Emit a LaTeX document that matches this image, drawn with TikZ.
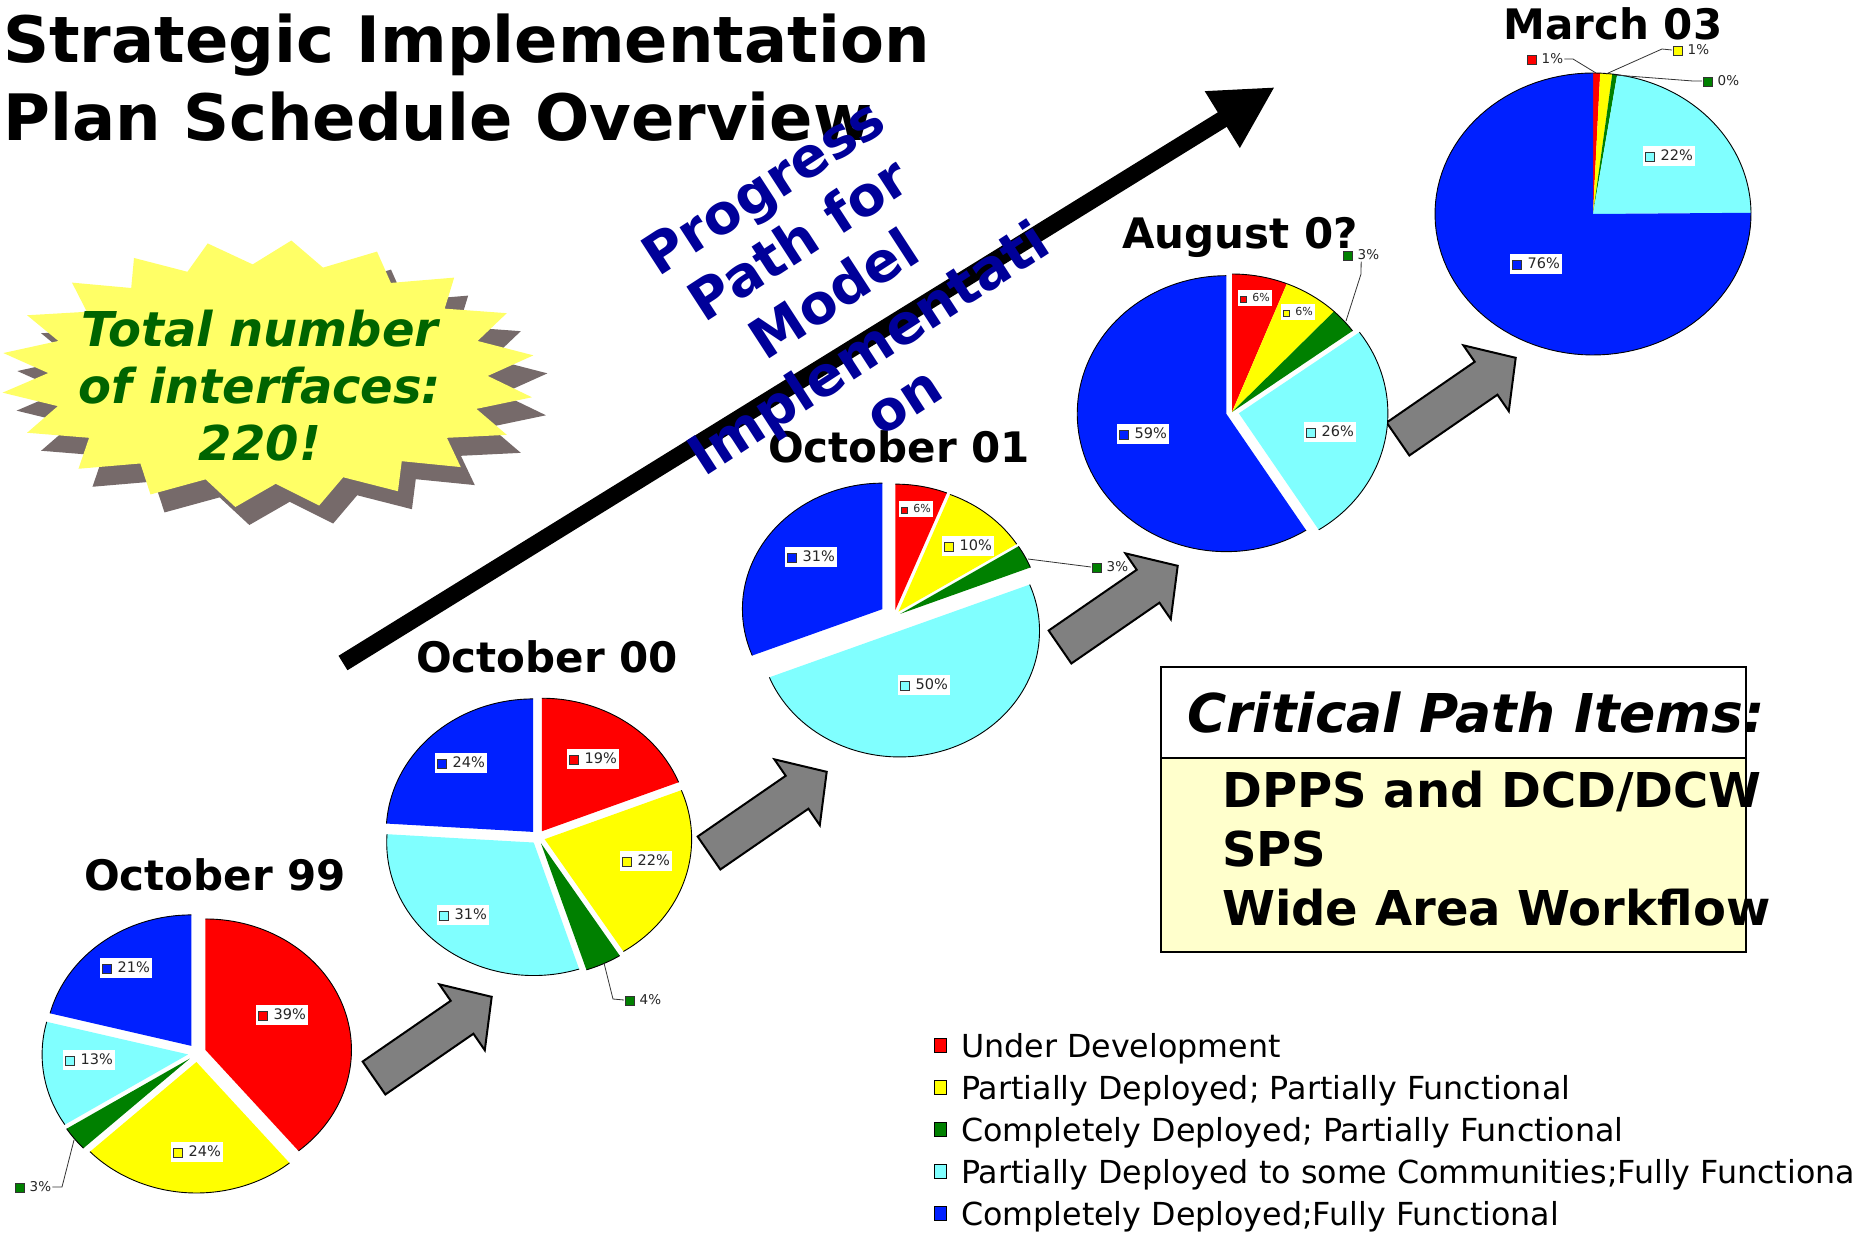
\documentclass[tikz,border=0pt]{standalone}
\usepackage{fontspec}
\setmainfont{DejaVu Sans}
\usetikzlibrary{arrows.meta,calc}

\definecolor{pred}{RGB}{255,0,0}
\definecolor{pyellow}{RGB}{255,255,0}
\definecolor{pgreen}{RGB}{0,128,0}
\definecolor{pcyan}{RGB}{128,255,255}
\definecolor{pblue}{RGB}{0,32,255}
\definecolor{starY}{RGB}{255,255,102}
\definecolor{starS}{RGB}{118,106,106}
\definecolor{starT}{RGB}{0,100,0}
\definecolor{navyT}{RGB}{0,0,153}
\definecolor{cpyellow}{RGB}{255,255,204}
\definecolor{agray}{RGB}{128,128,128}

\newcommand\fs[2]{\fontsize{#1}{#2}\selectfont}
\newcommand\swatch[2][9.5]{{\setlength\fboxsep{0pt}\setlength\fboxrule{1pt}\fcolorbox{black!80}{#2}{\rule{0pt}{\dimexpr#1pt-2pt\relax}\hspace{\dimexpr#1pt-2pt\relax}}}}

% cx cy rx ry startangle endangle explode colour
\newcommand\pieslice[8]{%
  \pgfmathsetmacro\psMid{(#5+#6)/2}%
  \pgfmathsetmacro\psOx{#1+#7*cos(\psMid)}%
  \pgfmathsetmacro\psOy{#2-#7*sin(\psMid)}%
  \fill[#8] (\psOx,\psOy) -- plot[domain=#5:#6,samples=90] ({\psOx+#3*cos(\x)},{\psOy-#4*sin(\x)}) -- cycle;%
  \draw[arcline] plot[domain=#5:#6,samples=90] ({\psOx+#3*cos(\x)},{\psOy-#4*sin(\x)});%
}

\newcommand\grayarrow[2]{%
  \begin{scope}[shift={(#1,#2)},rotate=34.6]
    \filldraw[fill=agray,draw=black,line width=2pt,line join=miter]
      (0,20) -- (107,20) -- (107,40) -- (143,0) -- (107,-40) -- (107,-20) -- (0,-20) -- cycle;
  \end{scope}}

\def\starpts{85/75.5,66/56,46/36.5,27/17.5,8/-1,-10/-18.5,-27/-35.5,-44/-52.5,-61/-70,-79/-88,-97/-106.5,-116/-125.5,-135/-144.5,-154/-163,-172/-180.5,171/162.5,154/145.5,137/128.5,120/111.5,103/94}

\begin{document}
\begin{tikzpicture}[x=1pt,y=-1pt,
  arcline/.style={draw=black,line width=0.9pt},
  lbl/.style={fill=white,inner xsep=2.5pt,inner ysep=4.5pt,text=black!85,font=\fs{14.5}{17}},
  slbl/.style={fill=white,inner xsep=2pt,inner ysep=3.5pt,text=black!85,font=\fs{11}{13}},
  olbl/.style={inner sep=1pt,anchor=west,text=black!85,font=\fs{13.5}{16}},
  leader/.style={draw=black!80,line width=0.8pt},
  ptitle/.style={inner sep=0pt,anchor=base,font=\bfseries\fs{42}{50}},
  ttl/.style={inner sep=0pt,anchor=base west,font=\bfseries\fs{64}{77}},
  bluetxt/.style={inner sep=0pt,anchor=base,rotate=33,text=navyT,font=\bfseries\fs{55}{64}},
  sttxt/.style={inner sep=0pt,anchor=base,text=starT,font=\bfseries\itshape\fs{48}{57}},
  legsq/.style={draw=black,line width=1pt,minimum width=12pt,minimum height=14pt,inner sep=0pt},
  legtxt/.style={inner sep=0pt,anchor=base west,font=\fs{31.7}{38}},
  cptitle/.style={inner sep=0pt,anchor=base west,font=\bfseries\itshape\fs{53.5}{62}},
  cpitem/.style={inner sep=0pt,anchor=base west,font=\bfseries\fs{48}{58}}
]
\useasboundingbox (0,0) rectangle (1861,1235);
\fill[white] (0,0) rectangle (1861,1235);

% ---------- title ----------
\node[ttl] (title1) at (3,62) {Strategic Implementation};
\node[ttl] (title2) at (3,140) {Plan Schedule Overview};

% ---------- starburst ----------
\fill[starS] ({282+0.82*268*cos(94)},{392-0.82*134*sin(94)})
  \foreach \a/\b in \starpts { -- ({282+268*cos(\a)},{392-134*sin(\a)}) -- ({282+0.82*268*cos(\b)},{392-0.82*134*sin(\b)}) } -- cycle;
\fill[starY] ({268+0.82*268*cos(94)},{374-0.82*134*sin(94)})
  \foreach \a/\b in \starpts { -- ({268+268*cos(\a)},{374-134*sin(\a)}) -- ({268+0.82*268*cos(\b)},{374-0.82*134*sin(\b)}) } -- cycle;
\node[sttxt] (st1) at (260,346) {Total number};
\node[sttxt] (st2) at (260,403) {of interfaces:};
\node[sttxt] (st3) at (260,460) {220!};

% ---------- big progress arrow ----------
\coordinate (bigtail) at (343,663);
\coordinate (bigtip) at (1275,87);
\draw[line width=17pt,-{Triangle[length=62pt,width=62pt]}] (bigtail) -- (bigtip);

% ---------- gray step arrows ----------
\grayarrow{374}{1078}
\grayarrow{709}{853}
\grayarrow{1060}{647}
\grayarrow{1398}{439}

% ---------- pie 1: October 99 ----------
\node[ptitle] (t99) at (215,890) {October 99};
\pieslice{197}{1053}{146}{131}{90}{-50.4}{9}{pred}
\pieslice{197}{1053}{146}{131}{-50.4}{-136.8}{9}{pyellow}
\pieslice{197}{1053}{146}{131}{-136.8}{-147.6}{9}{pgreen}
\pieslice{197}{1053}{146}{131}{-147.6}{-194.4}{9}{pcyan}
\pieslice{197}{1053}{146}{131}{-194.4}{-270}{9}{pblue}
\node[lbl] (l99r) at (282,1015) {\swatch{pred}\hspace{6pt}39\%};
\node[lbl] (l99y) at (197,1152) {\swatch{pyellow}\hspace{6pt}24\%};
\node[lbl] (l99c) at (89,1060) {\swatch{pcyan}\hspace{6pt}13\%};
\node[lbl] (l99b) at (126,968) {\swatch{pblue}\hspace{6pt}21\%};
\coordinate (p99g) at (74,1140);
\node[olbl] (o99g) at (14,1187) {\swatch{pgreen}\hspace{5pt}3\%};
\draw[leader] (o99g.east) -- (62,1187) -- (p99g);

% ---------- pie 2: October 00 ----------
\node[ptitle] (t00) at (547,672) {October 00};
\pieslice{538}{837}{147}{133}{90}{21.6}{7}{pred}
\pieslice{538}{837}{147}{133}{21.6}{-57.6}{7}{pyellow}
\pieslice{538}{837}{147}{133}{-57.6}{-72}{7}{pgreen}
\pieslice{538}{837}{147}{133}{-72}{-183.6}{7}{pcyan}
\pieslice{538}{837}{147}{133}{-183.6}{-270}{7}{pblue}
\node[lbl] (l00r) at (593,759) {\swatch{pred}\hspace{6pt}19\%};
\node[lbl] (l00y) at (646,861) {\swatch{pyellow}\hspace{6pt}22\%};
\node[lbl] (l00c) at (463,915) {\swatch{pcyan}\hspace{6pt}31\%};
\node[lbl] (l00b) at (461,763) {\swatch{pblue}\hspace{6pt}24\%};
\coordinate (p00g) at (604,963);
\node[olbl] (o00g) at (624,1000) {\swatch{pgreen}\hspace{5pt}4\%};
\draw[leader] (p00g) -- (613,999) -- (o00g.west);

% ---------- pie 3: October 01 ----------
\node[ptitle] (t01) at (899,462) {October 01};
\pieslice{894}{617}{140}{126}{90}{68.4}{7}{pred}
\pieslice{894}{617}{140}{126}{68.4}{32.4}{7}{pyellow}
\pieslice{894}{617}{140}{126}{32.4}{21.6}{7}{pgreen}
\pieslice{894}{617}{140}{126}{21.6}{-158.4}{15}{pcyan}
\pieslice{894}{617}{140}{126}{-158.4}{-270}{14}{pblue}
\node[slbl] (l01r) at (916,509) {\swatch[7]{pred}\hspace{5pt}6\%};
\node[lbl] (l01y) at (968,546) {\swatch{pyellow}\hspace{6pt}10\%};
\node[lbl] (l01c) at (924,685) {\swatch{pcyan}\hspace{6pt}50\%};
\node[lbl] (l01b) at (811,557) {\swatch{pblue}\hspace{6pt}31\%};
\coordinate (p01g) at (1028,559);
\node[olbl] (o01g) at (1091,567) {\swatch{pgreen}\hspace{5pt}3\%};
\draw[leader] (p01g) -- (o01g.west);

% ---------- pie 4: August 0? ----------
\node[ptitle] (t02) at (1240,248) {August 0?};
\pieslice{1232}{412}{149}{138}{90}{68.4}{0}{pred}
\pieslice{1232}{412}{149}{138}{68.4}{46.8}{0}{pyellow}
\pieslice{1232}{412}{149}{138}{46.8}{36}{0}{pgreen}
\pieslice{1232}{412}{149}{138}{36}{-57.6}{7}{pcyan}
\pieslice{1232}{412}{149}{138}{-57.6}{-270}{6}{pblue}
\node[slbl] (l02r) at (1255,298) {\swatch[7]{pred}\hspace{5pt}6\%};
\node[slbl] (l02y) at (1298,312) {\swatch[7]{pyellow}\hspace{5pt}6\%};
\node[lbl] (l02c) at (1330,432) {\swatch{pcyan}\hspace{6pt}26\%};
\node[lbl] (l02b) at (1143,434) {\swatch{pblue}\hspace{6pt}59\%};
\coordinate (p02g) at (1346,321);
\node[olbl] (o02g) at (1342,255) {\swatch{pgreen}\hspace{5pt}3\%};
\draw[leader] (p02g) -- (1361,274) -- (o02g.south);

% ---------- pie 5: March 03 ----------
\node[ptitle] (t03) at (1613,39) {March 03};
\pieslice{1593}{214}{158}{141}{90}{87.4}{0}{pred}
\pieslice{1593}{214}{158}{141}{87.4}{83}{0}{pyellow}
\pieslice{1593}{214}{158}{141}{83}{81.2}{0}{pgreen}
\pieslice{1593}{214}{158}{141}{81.2}{0.5}{0}{pcyan}
\pieslice{1593}{214}{158}{141}{0.5}{-270}{0}{pblue}
\node[lbl] (l03c) at (1669,156) {\swatch{pcyan}\hspace{6pt}22\%};
\node[lbl] (l03b) at (1536,264) {\swatch{pblue}\hspace{6pt}76\%};
\coordinate (p03r) at (1596,73);
\coordinate (p03y) at (1606,74);
\coordinate (p03g) at (1615,75);
\node[olbl] (o03r) at (1526,59) {\swatch{pred}\hspace{5pt}1\%};
\node[olbl] (o03y) at (1672,50) {\swatch{pyellow}\hspace{5pt}1\%};
\node[olbl] (o03g) at (1702,81) {\swatch{pgreen}\hspace{5pt}0\%};
\draw[leader] (o03r.east) -- (1573,59) -- (p03r);
\draw[leader] (o03y.west) -- (1662,49) -- (p03y);
\draw[leader] (o03g.west) -- (1693,81) -- (p03g);

% ---------- progress text ----------
\node[bluetxt] (bt1) at (774,203) {Progress};
\node[bluetxt] (bt2) at (809,256) {Path for};
\node[bluetxt] (bt3) at (844,310) {Model};
\node[bluetxt] (bt4) at (879,364) {Implementati};
\node[bluetxt] (bt5) at (914,417) {on};

% ---------- critical path box ----------
\node[draw=black,line width=2pt,fill=white,minimum width=585pt,minimum height=91pt,anchor=north west,inner sep=0pt] (cphead) at (1160,666) {};
\node[draw=black,line width=2pt,fill=cpyellow,minimum width=585pt,minimum height=194pt,anchor=north west,inner sep=0pt] (cpbody) at (1160,757) {};
\node[cptitle] (cpt) at (1187,732) {Critical Path Items:};
\node[cpitem] (cp1) at (1222,807) {DPPS and DCD/DCW};
\node[cpitem] (cp2) at (1222,866) {SPS};
\node[cpitem] (cp3) at (1222,925) {Wide Area Workflow};

% ---------- legend ----------
\node[legsq,fill=pred] (lg1) at (940,1045.5) {};
\node[legsq,fill=pyellow] (lg2) at (940,1087.5) {};
\node[legsq,fill=pgreen] (lg3) at (940,1129.5) {};
\node[legsq,fill=pcyan] (lg4) at (940,1171.5) {};
\node[legsq,fill=pblue] (lg5) at (940,1213.5) {};
\node[legtxt] (lt1) at (961,1057) {Under Development};
\node[legtxt] (lt2) at (961,1099) {Partially Deployed; Partially Functional};
\node[legtxt] (lt3) at (961,1141) {Completely Deployed; Partially Functional};
\node[legtxt] (lt4) at (961,1183) {Partially Deployed to some Communities;Fully Functiona};
\node[legtxt] (lt5) at (961,1225) {Completely Deployed;Fully Functional};
\end{tikzpicture}
\end{document}
